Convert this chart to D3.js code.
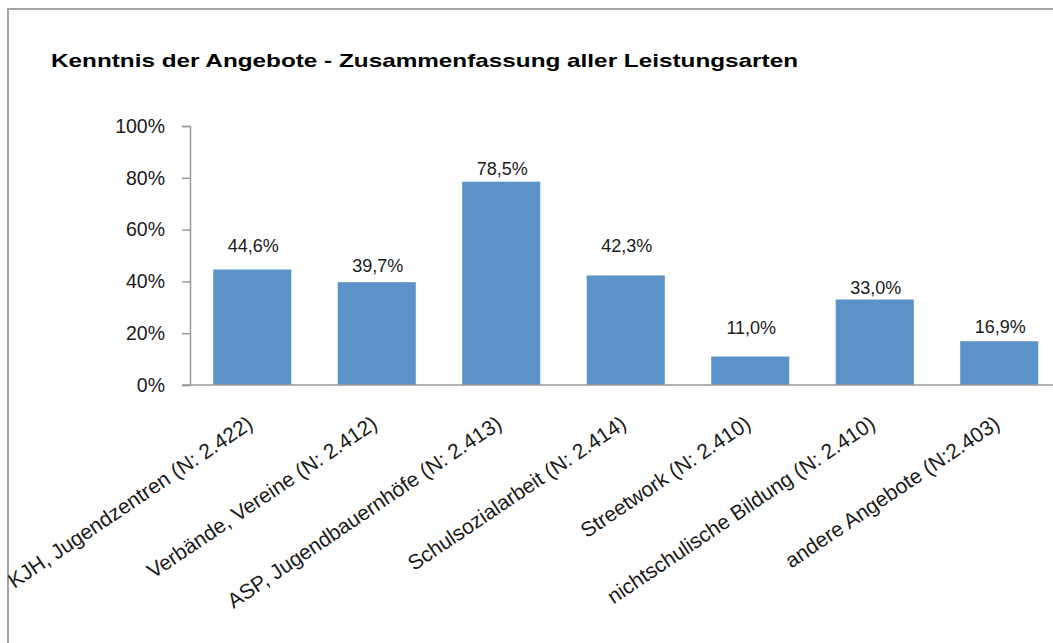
<!DOCTYPE html>
<html>
<head>
<meta charset="utf-8">
<script src="https://cdn.jsdelivr.net/npm/d3@7"></script>
<style>
  body { margin: 0; background: #fff; }
  svg { display: block; font-family: "Liberation Sans", Arial, sans-serif; }
</style>
</head>
<body>
<svg id="chart" width="1053" height="643"></svg>
<script>
// data
var categories = [
  "KJH, Jugendzentren (N: 2.422)",
  "Verbände, Vereine (N: 2.412)",
  "ASP, Jugendbauernhöfe (N: 2.413)",
  "Schulsozialarbeit (N: 2.414)",
  "Streetwork (N: 2.410)",
  "nichtschulische Bildung (N: 2.410)",
  "andere Angebote (N:2.403)"
];
var values = [44.6, 39.7, 78.5, 42.3, 11.0, 33.0, 16.9];
var yTicks = [0, 20, 40, 60, 80, 100];
var title = "Kenntnis der Angebote - Zusammenfassung aller Leistungsarten";

// layout (gap between label baseline and bar top, as placed in the original)
var labelGap = [17, 10, 7, 23, 23, 6, 8];

var svg = d3.select("#chart");
var plotLeft = 190, plotRight = 1061.5, plotTop = 126, plotBottom = 385;

var de = d3.formatLocale({decimal: ",", thousands: ".", grouping: [3], currency: ["", " €"]});
var fmt = de.format(".1f");

// frame
svg.append("rect")
  .attr("x", 8).attr("y", 9)
  .attr("width", 1100).attr("height", 700)
  .attr("fill", "none")
  .attr("stroke", "#a6a6a6")
  .attr("stroke-width", 2);

// title
svg.append("text")
  .attr("x", 51).attr("y", 66.5)
  .attr("font-size", 19)
  .attr("font-weight", "bold")
  .attr("fill", "#000")
  .attr("textLength", 747)
  .attr("lengthAdjust", "spacingAndGlyphs")
  .text(title);

var x = d3.scaleBand()
  .domain(categories)
  .range([plotLeft, plotRight])
  .paddingInner(0.373)
  .paddingOuter(0.1865);

var y = d3.scaleLinear()
  .domain([0, 100])
  .range([plotBottom, plotTop]);

// y axis
var yAxis = svg.append("g")
  .attr("transform", "translate(" + plotLeft + ",0)")
  .call(d3.axisLeft(y).tickValues(yTicks).tickSize(8).tickPadding(17)
    .tickFormat(function(d) { return d + "%"; }));
yAxis.select(".domain").attr("stroke", "#9a9a9a").attr("stroke-width", 1.5);
yAxis.selectAll(".tick line").attr("stroke", "#9a9a9a").attr("stroke-width", 1.5);
yAxis.selectAll(".tick text")
  .attr("font-size", 19.5)
  .attr("font-family", "Liberation Sans, Arial, sans-serif")
  .attr("fill", "#1a1a1a");

// bars
svg.selectAll("rect.bar")
  .data(values)
  .join("rect")
  .attr("class", "bar")
  .attr("x", function(d, i) { return x(categories[i]); })
  .attr("y", function(d) { return y(d); })
  .attr("width", x.bandwidth())
  .attr("height", function(d) { return y(0) - y(d); })
  .attr("fill", "#5b93c9");

// x axis line
svg.append("line")
  .attr("x1", plotLeft - 8).attr("x2", 1053)
  .attr("y1", plotBottom).attr("y2", plotBottom)
  .attr("stroke", "#9a9a9a")
  .attr("stroke-width", 1.5);

// value labels
svg.selectAll("text.val")
  .data(values)
  .join("text")
  .attr("class", "val")
  .attr("x", function(d, i) { return x(categories[i]) + x.bandwidth() / 2 + 1; })
  .attr("y", function(d, i) { return y(d) - labelGap[i]; })
  .attr("text-anchor", "middle")
  .attr("font-size", 18)
  .attr("fill", "#1a1a1a")
  .text(function(d) { return fmt(d) + "%"; });

// category labels
svg.selectAll("text.cat")
  .data(categories)
  .join("text")
  .attr("class", "cat")
  .attr("text-anchor", "end")
  .attr("transform", function(d) {
    return "translate(" + (x(d) + x.bandwidth() / 2 + 2) + "," + (plotBottom + 42) + ") rotate(-34)";
  })
  .attr("font-size", 21)
  .attr("fill", "#1a1a1a")
  .text(function(d) { return d; });
</script>
</body>
</html>
